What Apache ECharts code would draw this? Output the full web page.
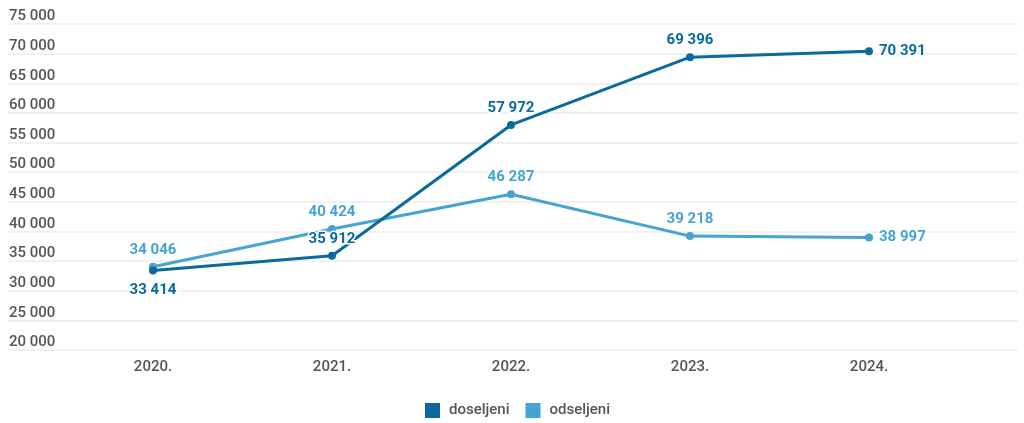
<!DOCTYPE html>
<html>
<head>
<meta charset="utf-8">
<script src="https://cdn.jsdelivr.net/npm/echarts@6/dist/echarts.min.js"></script>
<style>html,body{margin:0;padding:0;background:#fff}#c{width:1024px;height:423px}</style>
</head>
<body>
<div id="c"></div>
<script>
const categories = ['2020.', '2021.', '2022.', '2023.', '2024.'];
const doseljeni = [33414, 35912, 57972, 69396, 70391];
const odseljeni = [34046, 40424, 46287, 39218, 38997];
const doseljeniLabelPos = ['bottom', 'top', 'top', 'top', 'right'];
const odseljeniLabelPos = ['top', 'top', 'top', 'top', 'right'];
const yMin = 20000, yMax = 75000, yStep = 5000;

const C1 = '#0b6a9c', C2 = '#47a3d1';
const fmt = v => String(v).replace(/\B(?=(\d{3})+(?!\d))/g, ' ');
const dist = { top: 5, bottom: 8, right: 6 };

function mk(vals, pos) {
  return vals.map((v, i) => ({
    value: v,
    label: { position: pos[i], distance: dist[pos[i]] }
  }));
}

const chart = echarts.init(document.getElementById('c'));
chart.setOption({
  animation: false,
  textStyle: { fontFamily: 'Roboto' },
  grid: [
    { left: 8, right: 6, top: 24, bottom: 73 },
    { left: 153, right: 155, top: 24, bottom: 73 }
  ],
  legend: {
    left: 420, top: 398,
    itemWidth: 15, itemHeight: 15, itemGap: 16,
    icon: 'rect',
    textStyle: { fontSize: 15, color: '#555', fontWeight: 500, fontFamily: 'Roboto', padding: [0, 0, 0, 4] },
    data: ['doseljeni', 'odseljeni']
  },
  xAxis: [
    { gridIndex: 0, type: 'category', data: categories, show: false },
    {
      gridIndex: 1, type: 'category', data: categories, boundaryGap: false,
      axisLine: { show: false }, axisTick: { show: false },
      axisLabel: { color: '#555', fontSize: 15, fontWeight: 500, margin: 10, fontFamily: 'Roboto' }
    }
  ],
  yAxis: [
    {
      gridIndex: 0, type: 'value', min: yMin, max: yMax, interval: yStep,
      axisLine: { show: false }, axisTick: { show: false },
      splitLine: { lineStyle: { color: '#ececec', width: 1.5 } },
      axisLabel: {
        inside: true, verticalAlign: 'bottom', margin: 1, padding: [0, 0, 0, 0],
        color: '#555', fontSize: 15, fontWeight: 500, fontFamily: 'Roboto',
        formatter: v => fmt(v)
      }
    },
    { gridIndex: 1, type: 'value', min: yMin, max: yMax, interval: yStep, show: false }
  ],
  series: [
    {
      name: 'doseljeni', type: 'line', xAxisIndex: 1, yAxisIndex: 1,
      data: mk(doseljeni, doseljeniLabelPos),
      color: C1, symbol: 'circle', symbolSize: 8,
      lineStyle: { width: 3, color: C1 }, itemStyle: { color: C1 },
      label: {
        show: true, color: C1, fontSize: 15, fontWeight: 'bold', fontFamily: 'Roboto',
        textBorderColor: '#fff', textBorderWidth: 3,
        formatter: p => fmt(p.value)
      },
      z: 3
    },
    {
      name: 'odseljeni', type: 'line', xAxisIndex: 1, yAxisIndex: 1,
      data: mk(odseljeni, odseljeniLabelPos),
      color: C2, symbol: 'circle', symbolSize: 8,
      lineStyle: { width: 3, color: C2 }, itemStyle: { color: C2 },
      label: {
        show: true, color: C2, fontSize: 15, fontWeight: 'bold', fontFamily: 'Roboto',
        textBorderColor: '#fff', textBorderWidth: 3,
        formatter: p => fmt(p.value)
      },
      z: 2
    }
  ]
});
</script>
</body>
</html>
